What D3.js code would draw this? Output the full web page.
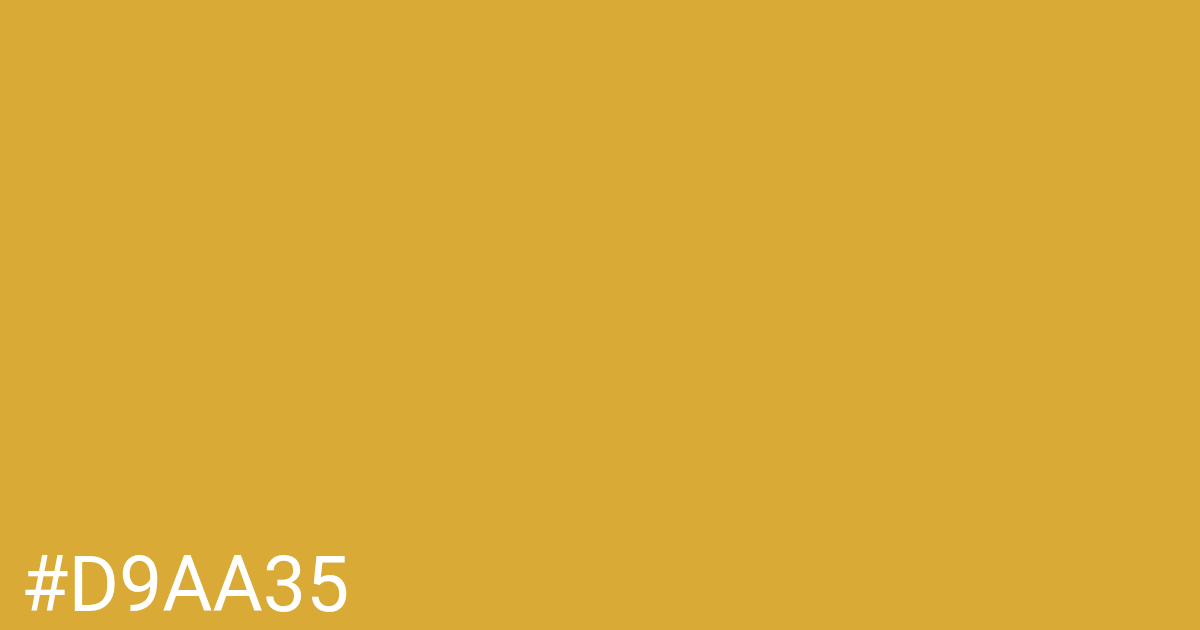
<!DOCTYPE html>
<html>
<head>
<meta charset="utf-8">
<script src="https://cdn.jsdelivr.net/npm/d3@7"></script>
<style>
  html, body { margin: 0; padding: 0; overflow: hidden; }
  svg { display: block; }
</style>
</head>
<body>
<svg width="1200" height="630"></svg>
<script>
// swatch data
var swatches = ["#D9AA35"];
var labels = ["#D9AA35"];

var svg = d3.select("svg"),
    width = +svg.attr("width"),
    height = +svg.attr("height");

var x = d3.scaleBand().domain(swatches).range([0, width]).padding(0);

svg.selectAll(".swatch")
  .data(swatches)
  .enter().append("rect")
    .attr("class", "swatch")
    .attr("x", function(d) { return x(d); })
    .attr("y", 0)
    .attr("width", x.bandwidth())
    .attr("height", height)
    .style("fill", function(d) { return d; });

svg.selectAll(".label")
  .data(labels)
  .enter().append("text")
    .attr("class", "label")
    .attr("x", function(d, i) { return x(swatches[i]) + 21; })
    .attr("y", 611)
    .style("font-family", "Roboto, sans-serif")
    .style("font-size", "77px")
    .style("fill", "#fff")
    .text(function(d) { return d; });
</script>
</body>
</html>
